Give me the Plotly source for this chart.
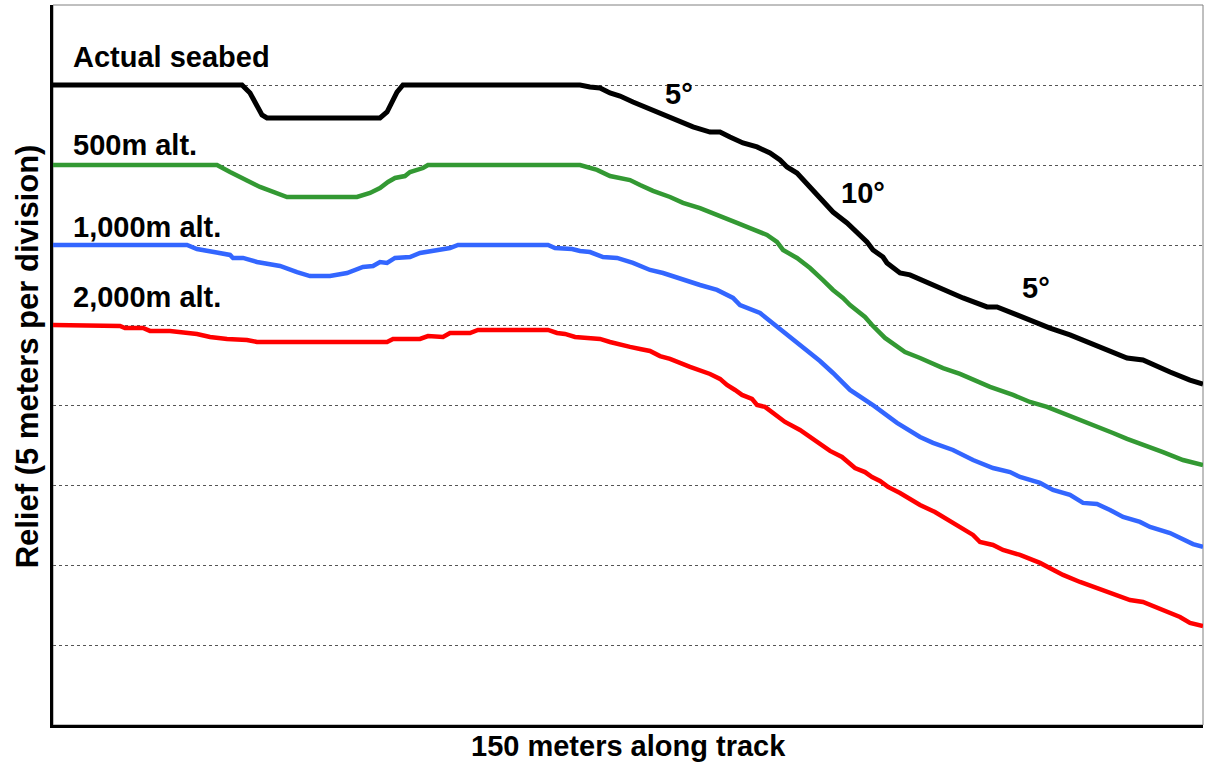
import plotly.graph_objects as go

# ---- data (meters along track, relief in meters) ----
seabed_x = [0, 24.65, 25.70, 26.61, 27.26, 27.91, 42.65, 43.57, 44.22, 44.87, 45.65, 68.74, 70.04, 71.35,
            72.65, 73.96, 75.65, 77.87, 80.09, 82.17, 83.48, 85.70, 87.00, 88.30, 90.00, 91.83, 93.52, 94.83,
            95.74, 97.04, 99.13, 101.74, 103.57, 104.87, 106.17, 106.96, 108.26, 108.78, 110.48, 111.78,
            114.78, 117.00, 118.70, 121.83, 123.13, 125.74, 127.83, 130.04, 132.65, 135.26, 137.48, 140.09,
            142.17, 144.00, 145.70, 148.30, 150.00]
seabed_y = [40, 40, 39.5, 38.63, 38.13, 37.94, 37.94, 38.31, 38.88, 39.56, 40, 40, 39.88, 39.81, 39.5, 39.31,
            38.94, 38.5, 38.13, 37.69, 37.38, 37.06, 37.06, 36.75, 36.38, 36.13, 35.75, 35.31, 34.88, 34.5,
            33.44, 32.06, 31.38, 30.75, 30.19, 29.69, 29.25, 28.88, 28.25, 28.13, 27.5, 27.06, 26.69, 26.13,
            26.13, 25.63, 25.19, 24.81, 24.38, 23.88, 23.44, 22.94, 22.81, 22.38, 22.06, 21.56, 21.31]

alt500_x = [0, 21.39, 23.09, 25.30, 27.00, 30.52, 39.65, 41.35, 42.65, 43.70, 44.61, 45.91, 46.57, 48.26, 48.91,
            68.74, 70.96, 72.65, 73.96, 75.26, 76.57, 78.26, 80.48, 82.17, 84.39, 87.39, 89.22, 90.91, 93.13,
            94.43, 95.22, 97.04, 98.74, 100.43, 101.74, 103.04, 103.96, 105.91, 106.83, 108.52, 111.13,
            113.09, 116.09, 118.30, 122.22, 125.22, 127.43, 129.65, 131.74, 133.96, 136.17, 138.26, 140.09,
            143.09, 144.78, 147.39, 150]
alt500_y = [35, 35, 34.56, 34.06, 33.63, 33.0, 33.0, 33.25, 33.56, 33.94, 34.19, 34.31, 34.56, 34.81, 35,
            35, 34.69, 34.31, 34.19, 34.06, 33.75, 33.38, 33.0, 32.63, 32.31, 31.69, 31.38, 31.06, 30.63,
            30.19, 29.69, 29.19, 28.56, 27.81, 27.19, 26.69, 26.25, 25.5, 25.0, 24.19, 23.31, 22.94, 22.31,
            21.94, 21.13, 20.63, 20.19, 19.88, 19.5, 19.06, 18.63, 18.25, 17.88, 17.38, 17.06, 16.56, 16.25]

alt1000_x = [0, 17.48, 18.78, 21.39, 23.09, 23.48, 24.78, 26.61, 27.91, 29.61, 31.83, 33.52, 36.13, 38.35,
             40.43, 41.74, 42.65, 43.57, 44.61, 46.57, 47.87, 49.83, 51.78, 52.83, 64.57, 65.48, 67.70,
             68.74, 70.04, 71.74, 73.57, 75.65, 77.87, 79.57, 82.17, 84.39, 86.61, 88.70, 89.61, 91.17,
             92.22, 94.17, 96.13, 97.43, 98.74, 100.04, 101.74, 103.96, 107.09, 110.09, 113.09, 114.78,
             117.39, 120.0, 122.61, 124.83, 126.13, 128.74, 130.43, 132.65, 134.35, 136.17, 137.87, 139.57,
             141.78, 143.09, 145.70, 147.0, 148.70, 150]
alt1000_y = [30, 30, 29.75, 29.5, 29.38, 29.19, 29.19, 28.94, 28.81, 28.69, 28.31, 28.06, 28.06, 28.25,
             28.63, 28.69, 28.94, 28.88, 29.19, 29.25, 29.5, 29.69, 29.81, 30, 30, 29.81, 29.75, 29.63,
             29.56, 29.25, 29.19, 28.88, 28.44, 28.25, 27.81, 27.5, 27.19, 26.69, 26.25, 25.94, 25.75,
             25.0, 24.25, 23.81, 23.31, 22.75, 22.0, 20.94, 19.94, 18.88, 18.0, 17.63, 17.19, 16.56, 16.06,
             15.81, 15.5, 15.13, 14.69, 14.38, 13.88, 13.81, 13.44, 13.0, 12.69, 12.38, 12.0, 11.69,
             11.31, 11.13]

alt2000_x = [0, 8.74, 9.39, 11.74, 12.65, 15.26, 18.78, 20.48, 22.70, 25.30, 26.61, 43.57, 44.35, 47.87,
             48.91, 50.87, 51.78, 54.39, 55.43, 64.57, 65.74, 66.78, 68.09, 70.04, 71.35, 72.65, 73.96,
             75.26, 76.57, 77.87, 79.17, 80.48, 83.09, 85.70, 87.00, 87.91, 88.96, 89.87, 91.17, 91.83,
             92.87, 94.17, 95.48, 97.43, 98.74, 100.04, 101.35, 102.91, 104.61, 105.91, 106.83, 107.87,
             108.91, 110.48, 113.09, 115.04, 117.0, 118.30, 120.0, 120.91, 122.61, 123.91, 126.13, 128.74,
             130.04, 131.74, 133.96, 136.17, 137.87, 140.48, 142.17, 144.78, 147.0, 148.30, 150]
alt2000_y = [25, 24.94, 24.81, 24.81, 24.63, 24.63, 24.44, 24.25, 24.13, 24.06, 23.94, 23.94, 24.13, 24.13,
             24.31, 24.25, 24.5, 24.5, 24.69, 24.69, 24.5, 24.44, 24.25, 24.19, 24.13, 23.94, 23.75, 23.63,
             23.5, 23.38, 23.06, 22.88, 22.38, 21.94, 21.63, 21.25, 20.94, 20.63, 20.38, 20.0, 19.88, 19.38,
             18.94, 18.44, 18.0, 17.56, 17.13, 16.75, 16.06, 15.81, 15.5, 15.25, 14.88, 14.5, 13.75, 13.31,
             12.75, 12.38, 11.88, 11.44, 11.25, 10.94, 10.63, 10.13, 9.81, 9.38, 8.94, 8.56, 8.25, 7.81,
             7.69, 7.19, 6.75, 6.38, 6.19]

series_names = ["Actual seabed", "500m alt.", "1,000m alt.", "2,000m alt."]
series_label_y = [41.75, 36.25, 31.15, 26.75]
slope_labels = ["5°", "10°", "5°"]
slope_x = [81.6, 105.6, 128.2]
slope_y = [39.44, 33.25, 27.31]

x_title = "150 meters along track"
y_title = "Relief (5 meters per division)"

FONT = "Liberation Sans, Arial, sans-serif"
FS = 29

fig = go.Figure()
series = [(seabed_x, seabed_y, "#000000", 5),
          (alt500_x, alt500_y, "#339933", 4.5),
          (alt1000_x, alt1000_y, "#3366FF", 4.5),
          (alt2000_x, alt2000_y, "#FF0000", 4.5)]
for (xs, ys, col, w), name in zip(series, series_names):
    fig.add_trace(go.Scatter(x=xs, y=ys, mode="lines", name=name,
                             line=dict(color=col, width=w), showlegend=False, hoverinfo="skip"))

annotations = []
for name, yy in zip(series_names, series_label_y):
    annotations.append(dict(x=2.4, y=yy, xref="x", yref="y", text="<b>%s</b>" % name,
                            xanchor="left", yanchor="middle", showarrow=False,
                            font=dict(family=FONT, size=FS, color="#000000")))
for t, xx, yy in zip(slope_labels, slope_x, slope_y):
    annotations.append(dict(x=xx, y=yy, xref="x", yref="y", text="<b>%s</b>" % t,
                            xanchor="center", yanchor="middle", showarrow=False,
                            font=dict(family=FONT, size=FS, color="#000000")))
annotations.append(dict(x=0.5, y=-0.029, xref="paper", yref="paper", text="<b>%s</b>" % x_title,
                        xanchor="center", yanchor="middle", showarrow=False,
                        font=dict(family=FONT, size=FS, color="#000000")))
annotations.append(dict(x=-0.0226, y=0.512, xref="paper", yref="paper", text="<b>%s</b>" % y_title,
                        xanchor="center", yanchor="middle", showarrow=False, textangle=-90,
                        font=dict(family=FONT, size=31, color="#000000")))

fig.update_layout(
    width=1205, height=762,
    margin=dict(l=53, r=2, t=5, b=37),
    paper_bgcolor="white", plot_bgcolor="white",
    annotations=annotations,
    shapes=[dict(type="rect", xref="paper", yref="paper", x0=0, y0=0, x1=1, y1=1,
                 line=dict(color="#808080", width=1), layer="below")],
    xaxis=dict(range=[0, 150], showgrid=False, zeroline=False, showticklabels=False, ticks="",
               showline=True, linecolor="#000000", linewidth=2.5),
    yaxis=dict(range=[0, 45], dtick=5, tick0=0, showgrid=True, gridcolor="#555555", gridwidth=1,
               griddash="dot", zeroline=False, showticklabels=False, ticks="",
               showline=True, linecolor="#000000", linewidth=2.5),
)

fig.write_html("out.html", config={"displayModeBar": False},
               post_script="document.body.style.margin='0px';")
